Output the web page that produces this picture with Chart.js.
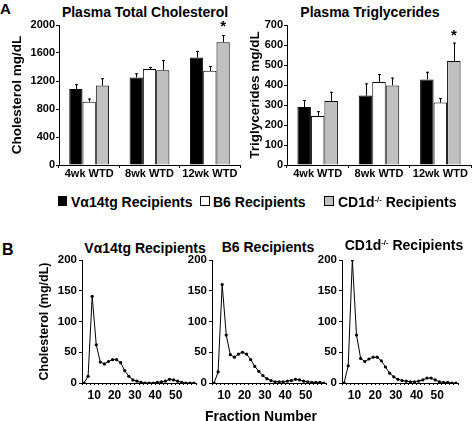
<!DOCTYPE html>
<html lang="en">
<head>
<meta charset="UTF-8">
<title>Plasma lipids in recipients</title>
<script src="https://cdn.jsdelivr.net/npm/chart.js"></script>
<style>
  html, body { margin: 0; padding: 0; background: #fff; }
  #fig {
    position: relative; width: 475px; height: 421px; overflow: hidden;
    font-family: 'Liberation Sans', Arial, sans-serif; font-weight: bold; color: #000;
  }
  .box { position: absolute; }
  .txt { position: absolute; white-space: nowrap; line-height: 1; }
  .mid { transform: translate(-50%, -50%); }
  .lft { transform: translateY(-50%); }
  .sq { position: absolute; border: 1px solid #000; box-sizing: border-box; }
  sup { font-size: 0.55em; vertical-align: 0.6em; line-height: 0; }
</style>
</head>
<body>
<div id="fig">
  <div class="txt" style="left:0;top:1px;font-size:15px">A</div>
  <div class="txt mid" style="left:145px;top:12px;font-size:14px">Plasma Total Cholesterol</div>
  <div class="txt mid" style="left:370px;top:12px;font-size:14px">Plasma Triglycerides</div>

  <div class="box" style="left:0;top:0;width:244px;height:185px"><canvas id="cholChart"></canvas></div>
  <div class="box" style="left:240px;top:0;width:235px;height:185px"><canvas id="tgChart"></canvas></div>

  <div class="sq" style="left:58px;top:196px;width:9px;height:10px;background:#000"></div>
  <div class="txt lft" style="left:71px;top:202px;font-size:14px">V&alpha;14tg Recipients</div>
  <div class="sq" style="left:200px;top:196px;width:10px;height:10px;background:#fff"></div>
  <div class="txt lft" style="left:213px;top:202px;font-size:14px">B6 Recipients</div>
  <div class="sq" style="left:324px;top:196px;width:10px;height:10px;background:#c0c0c0"></div>
  <div class="txt lft" style="left:338px;top:202px;font-size:14px">CD1d<sup>-/-</sup> Recipients</div>

  <div class="txt" style="left:2px;top:242px;font-size:16px">B</div>
  <div class="txt mid" style="left:145px;top:248px;font-size:14px">V&alpha;14tg Recipients</div>
  <div class="txt mid" style="left:268px;top:247px;font-size:14px">B6 Recipients</div>
  <div class="txt mid" style="left:404px;top:245px;font-size:14px">CD1d<sup>-/-</sup> Recipients</div>

  <div class="box" style="left:30px;top:250px;width:170px;height:155px"><canvas id="fpVa14Chart"></canvas></div>
  <div class="box" style="left:180px;top:250px;width:150px;height:155px"><canvas id="fpB6Chart"></canvas></div>
  <div class="box" style="left:310px;top:250px;width:152px;height:155px"><canvas id="fpCD1dChart"></canvas></div>

  <div class="txt mid" style="left:261px;top:416px;font-size:14px">Fraction Number</div>
</div>

<script>
// ---- panel A: bar charts ----
const weeks = ['4wk WTD', '8wk WTD', '12wk WTD'];
const groupNames = ['Vα14tg Recipients', 'B6 Recipients', 'CD1d-/- Recipients'];
const groupColors = ['#000000', '#ffffff', '#c0c0c0'];

// total cholesterol (mg/dL) and upper error
const cholVa14 = [1085, 1250, 1535];
const cholB6 = [905, 1370, 1345];
const cholCD1d = [1135, 1355, 1755];
const cholVa14Err = [70, 60, 95];
const cholB6Err = [45, 30, 70];
const cholCD1dErr = [105, 145, 100];

// triglycerides (mg/dL) and upper error
const tgVa14 = [290, 347, 428];
const tgB6 = [245, 415, 312];
const tgCD1d = [320, 398, 520];
const tgVa14Err = [35, 61, 38];
const tgB6Err = [24, 40, 22];
const tgCD1dErr = [46, 39, 92];

// ---- panel B: FPLC profiles ----
const fractions = [5, 7, 9, 11, 13, 15, 17, 19, 21, 23, 25, 27, 29, 31, 33, 35, 37, 39, 41, 43, 45, 47, 49, 51, 53, 55, 57, 59];
const fpVa14 = [0, 11, 141, 62, 34, 31, 35, 38, 38, 33, 20, 11, 5, 3, 1, 0, 0, 0, 1, 2, 3, 6, 5, 3, 1, 0, 0, 0];
const fpB6 = [0, 18, 160, 78, 46, 42, 47, 50, 47, 38, 27, 19, 12, 7, 4, 2, 2, 2, 3, 4, 6, 5, 3, 2, 1, 1, 1, 0];
const fpCD1d = [0, 28, 200, 78, 40, 35, 39, 42, 42, 36, 26, 16, 10, 6, 4, 3, 2, 2, 3, 5, 8, 8, 5, 2, 1, 1, 0, 0];

const FONT = "'Liberation Sans', Arial, sans-serif";

// upper error whiskers + significance stars
const errorBars = {
    id: 'errorBars',
    afterDatasetsDraw(chart, args, opts) {
        const ctx = chart.ctx;
        const yScale = chart.scales.y;
        ctx.save();
        ctx.strokeStyle = '#000';
        ctx.lineWidth = 1;
        chart.data.datasets.forEach((ds, i) => {
            chart.getDatasetMeta(i).data.forEach((bar, j) => {
                const top = yScale.getPixelForValue(ds.data[j] + ds.errors[j]);
                const x = Math.round(bar.x) + 0.5;
                ctx.beginPath();
                ctx.moveTo(x, bar.y);
                ctx.lineTo(x, top);
                ctx.moveTo(x - 1.5, top + 0.5);
                ctx.lineTo(x + 1.5, top + 0.5);
                ctx.stroke();
            });
        });
        ctx.fillStyle = '#000';
        ctx.font = 'bold 15px ' + FONT;
        ctx.textAlign = 'center';
        ctx.textBaseline = 'middle';
        (opts.stars || []).forEach(([i, j, gap]) => {
            const ds = chart.data.datasets[i];
            const bar = chart.getDatasetMeta(i).data[j];
            const top = yScale.getPixelForValue(ds.data[j] + ds.errors[j]);
            ctx.fillText('*', bar.x, top - gap);
        });
        ctx.restore();
    }
};

function barChart(id, series, errs, yMax, yStep, yTitle, yWidth, titleOffset, stars) {
    return new Chart(document.getElementById(id), {
        type: 'bar',
        data: {
            labels: weeks,
            datasets: series.map((s, i) => ({
                label: groupNames[i],
                data: s,
                errors: errs[i],
                backgroundColor: groupColors[i],
                borderColor: '#000',
                borderWidth: 1,
                categoryPercentage: 0.66,
                barPercentage: 1
            }))
        },
        options: {
            responsive: true,
            maintainAspectRatio: false,
            animation: false,
            layout: { padding: { top: 25, right: 4 } },
            plugins: {
                legend: { display: false },
                tooltip: { enabled: false },
                errorBars: { stars: stars }
            },
            scales: {
                x: {
                    grid: { drawOnChartArea: false, color: '#000', tickLength: 3 },
                    border: { color: '#000', width: 1 },
                    ticks: { color: '#000', font: { family: FONT, size: 11, weight: 'bold' }, padding: -1, maxRotation: 0 },
                    afterFit: s => { s.height = 20; }
                },
                y: {
                    min: 0, max: yMax,
                    grid: { drawOnChartArea: false, color: '#000', tickLength: 3 },
                    border: { color: '#000', width: 1 },
                    ticks: {
                        stepSize: yStep, color: '#000', padding: 1,
                        font: { family: FONT, size: 11, weight: 'bold' },
                        callback: v => String(v)
                    },
                    title: {
                        display: true, text: yTitle, color: '#000',
                        font: { family: FONT, size: 13.5, weight: 'bold' },
                        padding: { top: titleOffset, bottom: 0 }
                    },
                    afterFit: s => { s.width = yWidth; }
                }
            }
        },
        plugins: [errorBars]
    });
}

barChart('cholChart', [cholVa14, cholB6, cholCD1d], [cholVa14Err, cholB6Err, cholCD1dErr],
    2000, 400, 'Cholesterol mg/dL', 59, 9, [[2, 2, 8]]);
barChart('tgChart', [tgVa14, tgB6, tgCD1d], [tgVa14Err, tgB6Err, tgCD1dErr],
    700, 100, 'Triglycerides mg/dL', 47, 7, [[2, 2, 7]]);

function profileChart(id, values, yWidth, withTitle) {
    return new Chart(document.getElementById(id), {
        type: 'line',
        data: {
            datasets: [{
                data: fractions.map((f, i) => ({ x: f, y: values[i] })),
                borderColor: '#000',
                borderWidth: 1,
                pointRadius: 1.6,
                pointBackgroundColor: '#000',
                pointBorderWidth: 0,
                tension: 0
            }]
        },
        options: {
            responsive: true,
            maintainAspectRatio: false,
            animation: false,
            layout: { padding: { top: 10, right: 4 } },
            plugins: { legend: { display: false }, tooltip: { enabled: false } },
            scales: {
                x: {
                    type: 'linear', min: 4, max: 60,
                    grid: { drawOnChartArea: false, color: '#000', tickLength: 2 },
                    border: { color: '#000', width: 1 },
                    ticks: {
                        stepSize: 2, autoSkip: false, maxRotation: 0, padding: 3, color: '#000',
                        font: { family: FONT, size: 12, weight: 'bold' },
                        callback: v => (v % 10 === 0 && v < 60) ? v : ''
                    },
                    afterFit: s => { s.height = 22; }
                },
                y: {
                    min: 0, max: 200,
                    grid: { drawOnChartArea: false, color: '#000', tickLength: 3 },
                    border: { color: '#000', width: 1 },
                    ticks: { stepSize: 50, padding: 2, color: '#000', font: { family: FONT, size: 11.5, weight: 'bold' } },
                    title: {
                        display: withTitle, text: 'Cholesterol (mg/dL)', color: '#000',
                        font: { family: FONT, size: 12.5, weight: 'bold' },
                        padding: { top: 7, bottom: 0 }
                    },
                    afterFit: s => { s.width = yWidth; }
                }
            }
        }
    });
}

profileChart('fpVa14Chart', fpVa14, 52, true);
profileChart('fpB6Chart', fpB6, 32, false);
profileChart('fpCD1dChart', fpCD1d, 32, false);
</script>
</body>
</html>
